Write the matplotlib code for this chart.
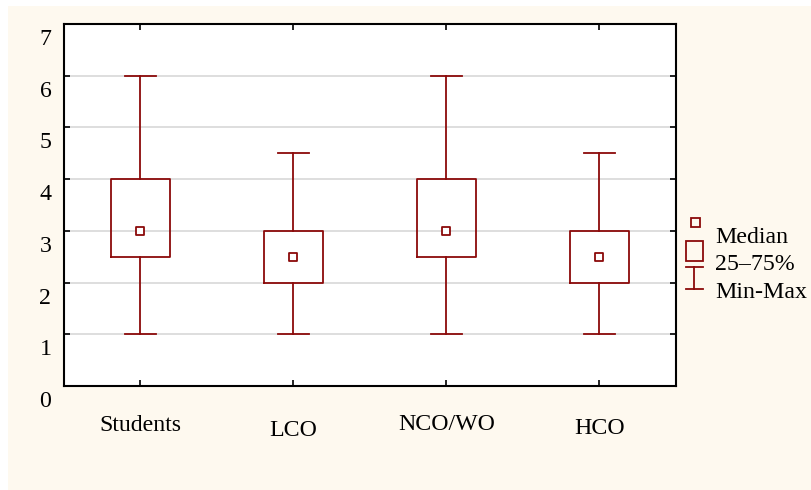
import matplotlib
matplotlib.use('Agg')
import matplotlib.pyplot as plt
import matplotlib.transforms as mtransforms
from matplotlib.patches import Rectangle
from matplotlib.lines import Line2D

plt.rcParams['font.family'] = ['Liberation Serif', 'DejaVu Serif']

groups = ['Students', 'LCO', 'NCO/WO', 'HCO']
minimum = [1, 1, 1, 1]
q1 = [2.5, 2, 2.5, 2]
median = [3, 2.5, 3, 2.5]
q3 = [4, 3, 4, 3]
maximum = [6, 4.5, 6, 4.5]
legend_labels = ['Median', '25\u201375%', 'Min-Max']

red = '#8B0A0A'
cream = '#FEF9EF'
fs = 17.2

fig = plt.figure(figsize=(8.12, 4.9), dpi=100)
fig.patch.set_facecolor('white')
# cream panel behind everything, with a thin white edge top/left
fig.add_artist(Rectangle((8 / 812, 0), 1, 1 - 6 / 490, transform=fig.transFigure,
                         facecolor=cream, edgecolor='none', zorder=-10))

ax = fig.add_axes([64 / 812, 104 / 490, 612 / 812, 362 / 490])
ax.set_facecolor('white')

positions = list(range(1, len(groups) + 1))
stats = []
for i in range(len(groups)):
    stats.append({'med': median[i], 'q1': q1[i], 'q3': q3[i],
                  'whislo': minimum[i], 'whishi': maximum[i], 'fliers': []})

ax.bxp(stats, positions=positions, widths=0.39, capwidths=0.2, showfliers=False,
       boxprops=dict(color=red, linewidth=1.3),
       whiskerprops=dict(color=red, linewidth=1.3),
       capprops=dict(color=red, linewidth=1.3),
       medianprops=dict(linestyle='none'), zorder=3)
ax.scatter(positions, median, marker='s', s=34, facecolor='white',
           edgecolor=red, linewidth=1.3, zorder=4)

ax.set_xlim(0.5, 4.5)
ax.set_ylim(0, 7)
ax.set_yticks(range(0, 8))
ax.set_xticks(positions)
ax.set_xticklabels([])

for y in range(1, 7):
    ax.axhline(y, color='#d4d4d4', linewidth=1.1, zorder=1)

for s in ax.spines.values():
    s.set_linewidth(1.5)
    s.set_color('black')

ax.tick_params(axis='both', direction='in', length=4, width=1.2,
               top=True, right=True, labelsize=fs)
ax.tick_params(axis='y', pad=9)

# y labels sit a bit below their ticks, like in the original
shift = mtransforms.ScaledTranslation(0, -13 / 100, fig.dpi_scale_trans)
for lab in ax.get_yticklabels():
    lab.set_transform(lab.get_transform() + shift)

# x labels, slightly staggered
base = mtransforms.blended_transform_factory(ax.transData, ax.transAxes)
drop = [431, 436, 430, 434]
for i, g in enumerate(groups):
    off = mtransforms.ScaledTranslation(0, -(drop[i] - 386) / 100, fig.dpi_scale_trans)
    ax.text(positions[i], 0, g, transform=base + off, ha='center', va='baseline',
            fontsize=fs, clip_on=False)

# legend drawn by hand to the right of the axes
def fx(px):
    return px / 812

def fy(py):
    return 1 - py / 490

fig.add_artist(Rectangle((fx(691), fy(227)), 9 / 812, 9 / 490, transform=fig.transFigure,
                         facecolor='none', edgecolor=red, linewidth=1.3))
fig.add_artist(Rectangle((fx(686), fy(261)), 17 / 812, 20 / 490, transform=fig.transFigure,
                         facecolor='none', edgecolor=red, linewidth=1.3))
fig.add_artist(Line2D([fx(694.5), fx(694.5)], [fy(267), fy(289)], transform=fig.transFigure,
                      color=red, linewidth=1.3))
fig.add_artist(Line2D([fx(686), fx(703)], [fy(267), fy(267)], transform=fig.transFigure,
                      color=red, linewidth=1.3))
fig.add_artist(Line2D([fx(686), fx(703)], [fy(289), fy(289)], transform=fig.transFigure,
                      color=red, linewidth=1.3))
for lbl, py in zip(legend_labels, [237, 264, 292]):
    fig.text(fx(715), fy(py), lbl, ha='left', va='center', fontsize=fs)

fig.savefig('out.png', dpi=100, facecolor=fig.get_facecolor())
